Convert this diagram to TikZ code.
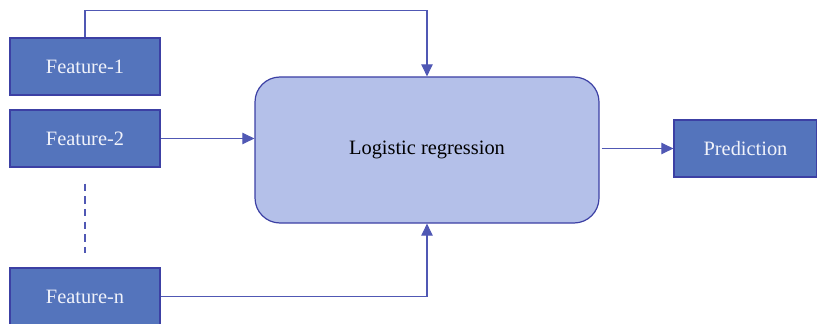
\documentclass[tikz,border=0pt]{standalone}
\usepackage{fontspec}
\setmainfont{Liberation Serif}
\usepackage{tikz}
\usetikzlibrary{arrows.meta, positioning}

\definecolor{featblue}{RGB}{84,116,188}
\definecolor{edgeblue}{RGB}{60,64,164}
\definecolor{lrblue}{RGB}{180,192,233}
\definecolor{lineblue}{RGB}{80,88,180}
\definecolor{textwhite}{RGB}{240,242,250}

\begin{document}
\begin{tikzpicture}[x=0.75pt,y=-0.75pt,node distance=54pt,on grid,
  feature/.style={draw=edgeblue,fill=featblue,line width=0.9pt,text=textwhite,
    minimum width=112.5pt,minimum height=42.75pt,font=\fontsize{15.3}{17}\selectfont},
  model/.style={draw=edgeblue,fill=lrblue,line width=0.9pt,rounded corners=18.75pt,
    minimum width=258pt,minimum height=109.5pt,font=\fontsize{15.3}{17}\selectfont},
  link/.style={draw=lineblue,line width=0.8pt,-{Triangle[length=9pt,width=8.5pt]}}]
  \useasboundingbox (0,0) rectangle (817,324);

  \node[feature] (F1) at (85,66.5)      {Feature-1};
  \node[feature] (F2) [below=of F1]     {Feature-2};
  \node[feature] (Fn) [below=118.5pt of F2] {Feature-n};
  \node[model]   (LR) at (427,150)      {Logistic regression};
  \node[feature,minimum width=107.25pt] (P) at (745.5,148.5) {Prediction};

  \draw[link] (F1.north) -- ++(0,-27) -| (LR.north);
  \draw[link] (F2.east) -- (F2.east -| LR.west);
  \draw[link] (Fn.east) -| (LR.south);
  \draw[link] ([xshift=1.5pt]LR.east |- P.west) -- (P.west);
  \draw[lineblue,line width=0.8pt,dash pattern=on 5.5pt off 4pt]
    ([yshift=-12pt]F2.south) -- ([yshift=10.5pt]Fn.north);
\end{tikzpicture}
\end{document}
